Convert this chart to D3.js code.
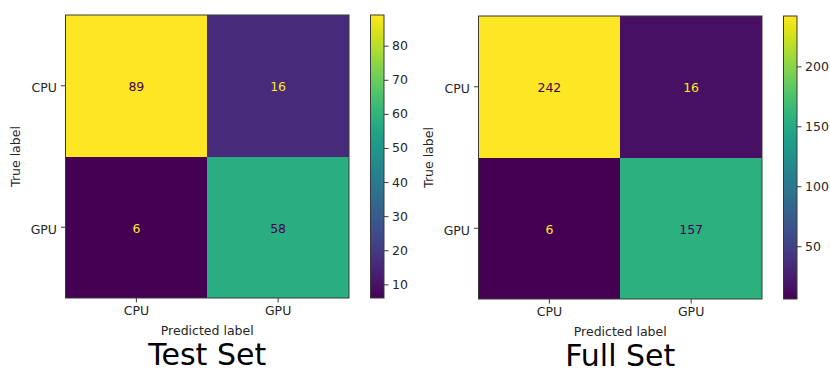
<!DOCTYPE html>
<html>
<head>
<meta charset="utf-8">
<script src="https://cdn.jsdelivr.net/npm/d3@7"></script>
<style>
  html, body { margin: 0; padding: 0; background: #fff; }
  svg { display: block; }
  text { font-family: "DejaVu Sans", sans-serif; }
</style>
</head>
<body>
<svg id="chart" width="830" height="369"></svg>
<script>
// Class labels shared by both confusion matrices
const classes = ["CPU", "GPU"];

// Confusion matrix counts, rows = true label, columns = predicted label
const testMatrix = [[89, 16], [6, 58]];
const fullMatrix = [[242, 16], [6, 157]];

// Colorbar tick values
const testTicks = [10, 20, 30, 40, 50, 60, 70, 80];
const fullTicks = [50, 100, 150, 200];

const titles = ["Test Set", "Full Set"];

const svg = d3.select("#chart");
const frameColor = "#3a3a3a";
const textColor = "#262626";
const fontSize = 12.5;

function drawPanel(matrix, ticks, title, box, cbar) {
  const values = matrix.flat();
  const vmin = d3.min(values), vmax = d3.max(values);
  const color = d3.scaleSequential(d3.interpolateViridis).domain([vmin, vmax]);
  const thresh = (vmin + vmax) / 2;

  const x = d3.scaleBand().domain(classes).range([box.x0, box.x1]);
  const y = d3.scaleBand().domain(classes).range([box.y0, box.y1]);

  const g = svg.append("g");

  // cells with their counts
  matrix.forEach((row, i) => {
    row.forEach((v, j) => {
      g.append("rect")
        .attr("x", x(classes[j]))
        .attr("y", y(classes[i]))
        .attr("width", x.bandwidth())
        .attr("height", y.bandwidth())
        .attr("fill", color(v))
        .attr("shape-rendering", "crispEdges");
      g.append("text")
        .attr("x", x(classes[j]) + x.bandwidth() / 2)
        .attr("y", y(classes[i]) + y.bandwidth() / 2 + 1)
        .attr("text-anchor", "middle")
        .attr("dominant-baseline", "central")
        .attr("font-size", fontSize)
        .attr("fill", v < thresh ? color(vmax) : color(vmin))
        .text(v);
    });
  });

  // frame
  g.append("rect")
    .attr("x", box.x0).attr("y", box.y0)
    .attr("width", box.x1 - box.x0).attr("height", box.y1 - box.y0)
    .attr("fill", "none").attr("stroke", frameColor).attr("stroke-width", 1);

  // axes
  const xAxis = d3.axisBottom(x).tickSize(4.5).tickPadding(4);
  const yAxis = d3.axisLeft(y).tickSize(4.5).tickPadding(4);
  const gx = g.append("g").attr("transform", `translate(0,${box.y1})`).call(xAxis);
  const gy = g.append("g").attr("transform", `translate(${box.x0},0)`).call(yAxis);
  [gx, gy].forEach(a => {
    a.select(".domain").remove();
    a.selectAll("line").attr("stroke", frameColor);
    a.selectAll("text").attr("font-size", fontSize).attr("fill", textColor)
      .attr("font-family", "DejaVu Sans, sans-serif");
  });
  gy.selectAll("text").attr("dy", "0.5em");

  // axis titles
  const cx = (box.x0 + box.x1) / 2, cy = (box.y0 + box.y1) / 2;
  g.append("text")
    .attr("x", cx).attr("y", box.y1 + 37)
    .attr("text-anchor", "middle")
    .attr("font-size", fontSize).attr("fill", textColor)
    .text("Predicted label");
  g.append("text")
    .attr("transform", `translate(${box.x0 - 50},${cy}) rotate(-90)`)
    .attr("text-anchor", "middle")
    .attr("dominant-baseline", "central")
    .attr("font-size", fontSize).attr("fill", textColor)
    .text("True label");

  // big caption under each panel
  g.append("text")
    .attr("x", cx).attr("y", box.y1 + 67)
    .attr("text-anchor", "middle")
    .attr("font-size", 30).attr("fill", "#000")
    .text(title);

  // colorbar
  const cs = d3.scaleLinear().domain([vmin, vmax]).range([cbar.y1, cbar.y0]);
  const gradId = "grad-" + title.replace(/\s/g, "");
  const grad = svg.append("defs").append("linearGradient")
    .attr("id", gradId).attr("x1", 0).attr("y1", 1).attr("x2", 0).attr("y2", 0);
  d3.range(0, 1.0001, 0.05).forEach(t => {
    grad.append("stop").attr("offset", t).attr("stop-color", d3.interpolateViridis(t));
  });
  g.append("rect")
    .attr("x", cbar.x0).attr("y", cbar.y0)
    .attr("width", cbar.x1 - cbar.x0).attr("height", cbar.y1 - cbar.y0)
    .attr("fill", `url(#${gradId})`)
    .attr("stroke", frameColor).attr("stroke-width", 1);
  const cAxis = d3.axisRight(cs).tickValues(ticks).tickSize(4.5).tickPadding(3.5);
  const gc = g.append("g").attr("transform", `translate(${cbar.x1},0)`).call(cAxis);
  gc.select(".domain").remove();
  gc.selectAll("line").attr("stroke", frameColor);
  gc.selectAll("text").attr("font-size", fontSize).attr("fill", textColor)
    .attr("font-family", "DejaVu Sans, sans-serif");
}

drawPanel(testMatrix, testTicks, titles[0],
  { x0: 65.5, x1: 349, y0: 15, y1: 298 },
  { x0: 370.5, x1: 384, y0: 15, y1: 298 });
drawPanel(fullMatrix, fullTicks, titles[1],
  { x0: 478.5, x1: 762, y0: 16, y1: 299 },
  { x0: 783.5, x1: 797, y0: 16, y1: 299 });
</script>
</body>
</html>
